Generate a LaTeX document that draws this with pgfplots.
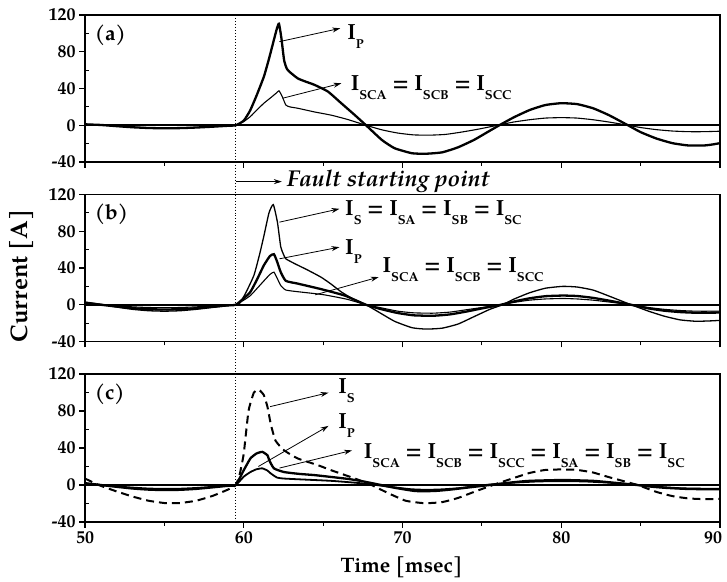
\documentclass[border=0pt]{standalone}
\usepackage{fontspec}
\setmainfont{TeX Gyre Pagella}
\usepackage{pgfplots}
\pgfplotsset{compat=1.18}
\usetikzlibrary{arrows.meta}
\newcommand{\sbs}[1]{\raisebox{-0.42em}{\fontsize{13}{13}\selectfont #1}}
\newcommand{\lbl}{\fontsize{22}{24}\selectfont\bfseries}
\pgfplotsset{panel/.style={
  scale only axis, width=635bp, height=147bp,
  xmin=50, xmax=90, ymin=-40, ymax=120,
  xtick={50,60,70,80,90}, minor xtick={55,65,75,85},
  ytick={-40,0,40,80,120}, minor ytick={-20,20,60,100},
  yticklabels={-40,0,40,80,120},
  tick pos=left, tick align=outside,
  major tick length=6bp, minor tick length=4bp,
  tick style={line width=1.1bp, black},
  minor y tick style={xshift=4bp},
  axis line style={line width=1.3bp},
  ticklabel style={font=\fontsize{18}{18}\selectfont\bfseries},
  clip mode=individual,
  every axis plot/.append style={black},
}}
\tikzset{arr/.style={-{Stealth[length=8bp,width=5bp]}, line width=0.8bp}}
\begin{document}
\begin{tikzpicture}
\path[use as bounding box] (0bp,0bp) rectangle (727bp,582bp);
% ---------- (a)
\begin{axis}[panel, at={(85bp,420bp)}, anchor=south west, xticklabels={}]
\addplot[line width=2bp] coordinates {(50,0) (90,0)};
\addplot[line width=2.3bp, smooth, tension=0.3] coordinates {
(50,1)(51,0.3)(52,-1)(53,-2.2)(54,-3)(55,-3.3)(56,-3.1)(57,-2.5)(58,-1.6)(59,-0.6)(59.5,0)
(60,5)(60.4,16)(60.8,32)(61.27,53)(61.6,73)(61.9,93)(62.1,106)(62.22,110.5)(62.37,95)(62.54,71)
(62.7,62)(62.86,58.5)(63.4,51)(63.9,47.5)(64.45,44)(65.3,36.7)(66.14,24)(67,11)(67.7,0)(68.7,-16)
(69.5,-25)(70.6,-30.5)(71.5,-31)(72.5,-29.5)(73.5,-24)(74.5,-16)(75.3,-8)(76.1,0)(77,8.5)(78,16.5)
(79,22)(80,24)(81,23)(82,18.5)(83,11)(84.2,0)(85,-7.5)(86,-14.5)(87,-19.5)(88,-22)(89,-22)(89.5,-21)(90,-19.5)};
\addplot[line width=1.1bp, smooth, tension=0.3] coordinates {
(50,1)(51,0.3)(52,-1)(53,-2)(54,-2.7)(55,-3)(56,-2.8)(57,-2.3)(58,-1.5)(59,-0.5)(59.5,0)
(60,4)(60.42,9.5)(60.85,17)(61.27,24)(61.7,30)(62.05,35)(62.22,37.5)(62.43,31)(62.65,22)(62.9,20)
(63.4,18.5)(64.45,14.5)(65.5,11)(66.5,6.5)(67.7,0)(68.7,-5)(69.7,-8.5)(70.7,-10.5)(71.7,-10.8)(72.7,-10)
(73.7,-7.5)(74.7,-4.5)(76,0)(77,3.5)(78,6)(79,7.8)(80,8.3)(81,7.8)(82,6)(83,3.5)(84.2,0)(85,-2.5)
(86,-4.8)(87,-6.3)(88,-7)(89,-7)(90,-6.5)};
\coordinate (fa) at (axis cs:59.5,120);
\node[anchor=west, font=\fontsize{21}{21}\selectfont\bfseries] at (axis cs:50.4,98) {(a)};
\draw[arr] (axis cs:62.25,91) -- (axis cs:66.08,105.5);
\node[anchor=base west, inner sep=0pt, font=\lbl] at (axis cs:66.52,93.6) {I\sbs{P}};
\draw[arr] (axis cs:62.45,29.4) -- (axis cs:66.15,45.7);
\node[anchor=base west, inner sep=0pt, font=\lbl] at (axis cs:66.73,37.6) {I\sbs{SCA} = I\sbs{SCB} = I\sbs{SCC}};
\end{axis}
% ---------- (b)
\begin{axis}[panel, at={(85bp,240.5bp)}, anchor=south west, xticklabels={}]
\addplot[line width=2bp] coordinates {(50,0) (90,0)};
\addplot[line width=1.3bp, smooth, tension=0.3] coordinates {
(50,3)(51,0.5)(52,-2.5)(53,-5)(54,-6.5)(55,-7)(56,-6.5)(57,-5)(58,-3)(59,-1)(59.5,0)
(59.7,0.5)(60.1,12)(60.64,32)(61.0,55)(61.27,75)(61.59,100)(61.86,109)(62.12,90)(62.33,63)(62.5,55)
(62.65,50)(63.18,45)(64,38)(64.87,30)(65.5,22.5)(66.14,14)(67,5)(67.7,0)(68.5,-8)(69.5,-18)
(70.6,-25)(71.5,-26.5)(72.5,-25.5)(73.5,-21)(74.5,-13)(75.5,-5)(76.3,0)(77,6)(78,13)(79,18)
(80.1,20)(81,19.3)(82,16)(83,9.5)(84.4,0)(85.5,-7)(86.5,-12.5)(87.5,-16.5)(88.5,-18)(89.5,-17.5)(90,-17)};
\addplot[line width=2.3bp, smooth, tension=0.3] coordinates {
(50,2)(51,0)(52,-2)(53,-3.7)(54,-4.8)(55,-5.2)(56,-4.8)(57,-3.8)(58,-2.2)(59,-0.7)(59.5,0)
(60,7)(60.42,14)(60.85,28)(61.27,43)(61.65,53)(61.9,55)(62.1,47)(62.33,35.5)(62.65,26)(63.4,23)
(64.87,17)(66.36,10)(67.7,0)(68.7,-5)(69.7,-9)(70.7,-11.5)(71.9,-12)(73,-10.5)(74,-7.5)(75,-4)
(76.2,0)(77,3.5)(78,7)(79,9.3)(80.1,10)(81,9.5)(82,7.5)(83,4.5)(84.4,0)(85.5,-4)(86.5,-6.5)
(87.5,-8)(88.5,-8.7)(90,-8.5)};
\addplot[line width=1.1bp, smooth, tension=0.3] coordinates {
(50,1.5)(51,0)(52,-1.2)(53,-2.3)(54,-3)(55,-3.2)(56,-3)(57,-2.3)(58,-1.4)(59,-0.4)(59.5,0)
(60,5)(60.42,10)(60.85,18)(61.27,26)(61.65,33)(61.9,35.5)(62.1,29)(62.33,21)(62.65,16)(63.5,14)
(65,11)(66.5,6)(67.7,0)(68.7,-3.5)(69.7,-7)(70.7,-8.8)(71.9,-9.2)(73,-8)(74,-5.5)(75,-3)(76.2,0)
(77,2.5)(78,5)(79,6.3)(80.1,6.8)(81,6.3)(82,5)(83,3)(84.4,0)(85.5,-3)(86.5,-5)(87.5,-6.3)(88.5,-7)(90,-7)};
\node[anchor=west, font=\fontsize{21}{21}\selectfont\bfseries] at (axis cs:50.4,98) {(b)};
\draw[arr] (axis cs:59.5,134) -- (axis cs:62.4,134);
\node[anchor=west, font=\fontsize{23}{23}\selectfont\itshape\bfseries] at (axis cs:62.5,134.5) {Fault starting point};
\draw[arr] (axis cs:62.25,89.9) -- (axis cs:66.03,104.4);
\node[anchor=base west, inner sep=0pt, font=\lbl] at (axis cs:66.38,97.1) {I\sbs{S} = I\sbs{SA} = I\sbs{SB} = I\sbs{SC}};
\draw[arr] (axis cs:62.25,50) -- (axis cs:66.03,62.7);
\node[anchor=base west, inner sep=0pt, font=\lbl] at (axis cs:66.38,54.7) {I\sbs{P}};
\draw[arr] (axis cs:64.5,10.8) -- (axis cs:68.5,30.1);
\node[anchor=base west, inner sep=0pt, font=\lbl] at (axis cs:68.74,34.8) {I\sbs{SCA} = I\sbs{SCB} = I\sbs{SCC}};
\end{axis}
% ---------- (c)
\begin{axis}[panel, at={(85bp,60bp)}, anchor=south west, height=148bp,
  xticklabels={50,60,70,80,{\makebox[0pt][c]{\hspace{-14bp}90}}}]
\addplot[line width=2bp] coordinates {(50,0) (90,0)};
\addplot[line width=2bp, dash pattern=on 8bp off 5bp, smooth, tension=0.3] coordinates {
(50,7)(50.86,0)(52,-7)(53,-12.5)(54,-17)(55,-19.5)(55.5,-19.7)(56,-19.5)(57,-17)(58,-12)(59,-5)(59.5,0)
(59.75,12)(60,34)(60.3,80)(60.64,100)(60.95,103)(61.27,97)(61.5,84)(61.7,66)(62.0,48)(62.54,37.5)
(63.4,28.7)(64.66,21.5)(65.5,16)(67,7)(68.05,0)(69,-8)(70.2,-17)(71.4,-19.7)(72.5,-18.5)(73.5,-14)
(74.5,-7.5)(75.7,0)(77,7.5)(78,13)(79,16.3)(80,16.8)(81,16.3)(82,13.5)(83,8.5)(84.8,0)(86,-7.5)
(87,-12)(88,-14.5)(89,-15.3)(90,-15)};
\addplot[line width=2.3bp, smooth, tension=0.3] coordinates {
(50,2)(51,0)(52,-2)(53,-3.8)(54,-5)(55,-5.5)(56,-5.2)(57,-4.2)(58,-2.6)(59,-0.9)(59.5,0)
(60,16)(60.42,28.7)(60.8,34)(61.17,35.8)(61.5,32)(61.6,27)(61.9,18)(62.54,14)(63.5,12)(64.45,10.7)
(65.5,8.7)(66.6,6.5)(67.5,4)(68.5,0.5)(69.5,-3)(70.8,-6.5)(72,-6.5)(73,-5)(74,-3)(75,-1)(76,1)
(77,3)(78,4.5)(80.1,5.4)(82,4.5)(83,3)(84.5,0.5)(85.5,-1.5)(86.5,-3)(88,-4.3)(90,-4.7)};
\addplot[line width=1.8bp, smooth, tension=0.3] coordinates {
(50,1.5)(51,0)(52,-1.5)(53,-2.8)(54,-3.8)(55,-4.2)(56,-4)(57,-3.2)(58,-2)(59,-0.7)(59.5,0)
(60,9)(60.42,14)(60.8,17)(61.17,18)(61.5,15.5)(61.7,12.5)(62.1,8)(62.5,7)(63.4,6.2)(65.5,4.5)
(67,2.5)(68,0.8)(69,-1.5)(70.5,-4.5)(71.5,-5.2)(72.5,-4.7)(73.5,-3.5)(74.5,-1.5)(75.5,0.5)(77,2.5)
(78.5,3.8)(80,4.2)(81.5,3.8)(83,2.5)(84.5,0.5)(86,-1.8)(87.5,-3.5)(89,-4)(90,-4)};
\coordinate (fc) at (axis cs:59.5,-40);
\node[anchor=west, font=\fontsize{21}{21}\selectfont\bfseries] at (axis cs:50.4,98) {(c)};
\draw[arr] (axis cs:61.66,84.7) -- (axis cs:65.34,99.8);
\node[anchor=base west, inner sep=0pt, font=\lbl] at (axis cs:65.94,99.2) {I\sbs{S}};
\draw[arr] (axis cs:60.92,20) -- (axis cs:65.34,63.9);
\node[anchor=base west, inner sep=0pt, font=\lbl] at (axis cs:65.94,61.4) {I\sbs{P}};
\draw[arr] (axis cs:62.25,18.3) -- (axis cs:66.82,37.4);
\node[anchor=base west, inner sep=0pt, font=\lbl] at (axis cs:67.56,29) {I\sbs{SCA} = I\sbs{SCB} = I\sbs{SCC} = I\sbs{SA} = I\sbs{SB} = I\sbs{SC}};
\end{axis}
\draw[dotted, line width=1bp] (fa) -- (fc);
\node[rotate=90, font=\fontsize{24}{24}\selectfont\bfseries] at (22bp,306bp) {Current [A]};
\node[anchor=base, font=\fontsize{21}{21}\selectfont\bfseries] at (401.5bp,10bp) {Time [msec]};
\end{tikzpicture}
\end{document}
